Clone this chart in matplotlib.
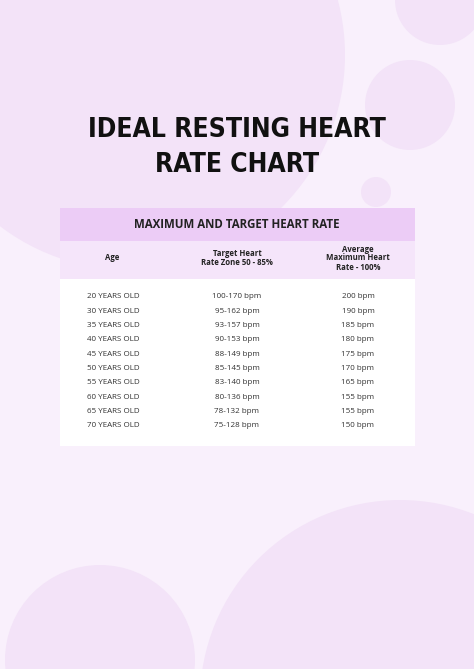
import matplotlib
matplotlib.use("Agg")
import matplotlib.pyplot as plt
from matplotlib.patches import Circle, Rectangle

ages = ["20 YEARS OLD", "30 YEARS OLD", "35 YEARS OLD", "40 YEARS OLD", "45 YEARS OLD",
        "50 YEARS OLD", "55 YEARS OLD", "60 YEARS OLD", "65 YEARS OLD", "70 YEARS OLD"]
target_zone = ["100-170 bpm", "95-162 bpm", "93-157 bpm", "90-153 bpm", "88-149 bpm",
               "85-145 bpm", "83-140 bpm", "80-136 bpm", "78-132 bpm", "75-128 bpm"]
max_rate = ["200 bpm", "190 bpm", "185 bpm", "180 bpm", "175 bpm",
            "170 bpm", "165 bpm", "155 bpm", "155 bpm", "150 bpm"]
headers = ["Age", "Target Heart\nRate Zone 50 - 85%", "Average\nMaximum Heart\nRate - 100%"]

W, H = 474, 669
fig = plt.figure(figsize=(W / 100, H / 100), dpi=100)
ax = fig.add_axes([0, 0, 1, 1])
ax.set_xlim(0, W)
ax.set_ylim(H, 0)
ax.axis("off")
fig.patch.set_facecolor("#f9f0fc")

# decorative circles
circ = "#f3e3f8"
for (cx, cy, r) in [(130, 55, 215), (410, 105, 45), (376, 192, 15), (440, 0, 45),
                    (400, 700, 200), (100, 660, 95)]:
    ax.add_patch(Circle((cx, cy), r, color=circ, zorder=0, lw=0))

ax.text(237, 130, "IDEAL RESTING HEART", ha="center", va="center", fontsize=19,
        fontweight="heavy", fontstretch="condensed", family="DejaVu Sans", color="#111111")
ax.text(237, 165, "RATE CHART", ha="center", va="center", fontsize=19,
        fontweight="heavy", fontstretch="condensed", family="DejaVu Sans", color="#111111")

# table
x0, x1 = 60, 415
ax.add_patch(Rectangle((x0, 208), x1 - x0, 33, color="#ecccf6", lw=0, zorder=1))
ax.add_patch(Rectangle((x0, 241), x1 - x0, 38, color="#f5e5fa", lw=0, zorder=1))
ax.add_patch(Rectangle((x0, 279), x1 - x0, 167, color="white", lw=0, zorder=1))

fnt = ["Open Sans", "DejaVu Sans"]
ax.text(237, 224, "MAXIMUM AND TARGET HEART RATE", ha="center", va="center",
        fontsize=8.3, fontweight="bold", family=fnt, color="#222222", zorder=2)

col_x = [112, 237, 358]
for x, h in zip(col_x, headers):
    ax.text(x, 258, h, ha="center", va="center", fontsize=5.6, fontweight="bold",
            family=fnt, color="#222222", linespacing=1.0, zorder=2)

y0, dy = 297, 14.3
for i, (a, t, m) in enumerate(zip(ages, target_zone, max_rate)):
    y = y0 + i * dy
    ax.text(87, y, a, ha="left", va="center", fontsize=5.8, family=fnt, color="#333333", zorder=2)
    ax.text(col_x[1], y, t, ha="center", va="center", fontsize=5.8, family=fnt, color="#333333", zorder=2)
    ax.text(col_x[2], y, m, ha="center", va="center", fontsize=5.8, family=fnt, color="#333333", zorder=2)

fig.savefig("out.png", dpi=100, facecolor=fig.get_facecolor())
